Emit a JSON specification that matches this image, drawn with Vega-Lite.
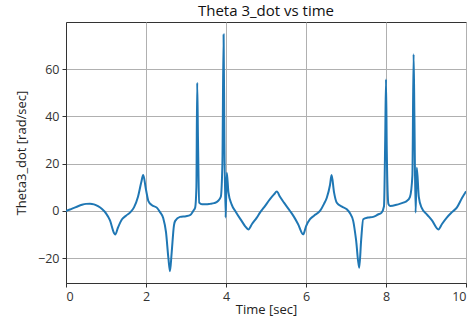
{
  "$schema": "https://vega.github.io/schema/vega-lite/v6.json",
  "width": 400,
  "height": 261,
  "autosize": "none",
  "padding": {"left": 66, "top": 22, "right": 10, "bottom": 43},
  "background": "white",
  "title": {"text": "Theta 3_dot vs time", "font": "Open Sans", "fontSize": 15, "fontWeight": "normal", "color": "#111", "offset": 3},
  "config": {
    "view": {"stroke": "#333", "strokeWidth": 1},
    "axis": {"labelFont": "Open Sans", "titleFont": "Open Sans", "labelFontSize": 12.5, "titleFontSize": 13, "titleFontWeight": "normal", "labelColor": "#333", "titleColor": "#222", "gridColor": "#b0b0b0", "gridWidth": 1, "gridOpacity": 1, "domainColor": "#333", "tickColor": "#333", "tickSize": 4, "labelPadding": 3}
  },
  "data": {"values": [
    {"t": 0, "v": 0}, {"t": 0.1, "v": 0.6}, {"t": 0.2, "v": 1.3}, {"t": 0.3, "v": 2.0}, {"t": 0.4, "v": 2.6}, {"t": 0.5, "v": 3.0}, {"t": 0.6, "v": 3.1}, {"t": 0.7, "v": 2.8}, {"t": 0.8, "v": 2.0}, {"t": 0.9, "v": 0.8},
    {"t": 1.0, "v": -1.0}, {"t": 1.1, "v": -4}, {"t": 1.2, "v": -9.3}, {"t": 1.23, "v": -10}, {"t": 1.3, "v": -7}, {"t": 1.4, "v": -3.5}, {"t": 1.5, "v": -2}, {"t": 1.6, "v": -0.7}, {"t": 1.7, "v": 1.5}, {"t": 1.8, "v": 6},
    {"t": 1.88, "v": 12}, {"t": 1.93, "v": 15.2}, {"t": 2.0, "v": 9}, {"t": 2.06, "v": 4.2}, {"t": 2.15, "v": 2.4}, {"t": 2.27, "v": 1.4}, {"t": 2.35, "v": -0.5}, {"t": 2.43, "v": -3}, {"t": 2.5, "v": -9}, {"t": 2.56, "v": -20},
    {"t": 2.6, "v": -25.5}, {"t": 2.64, "v": -18}, {"t": 2.7, "v": -6}, {"t": 2.73, "v": -4.2}, {"t": 2.85, "v": -2.5}, {"t": 3.0, "v": -2.2}, {"t": 3.1, "v": -1.8}, {"t": 3.18, "v": 0}, {"t": 3.23, "v": 1.5}, {"t": 3.26, "v": 10},
    {"t": 3.28, "v": 54.3}, {"t": 3.3, "v": 30}, {"t": 3.33, "v": 3.5}, {"t": 3.4, "v": 2.8}, {"t": 3.5, "v": 2.8}, {"t": 3.6, "v": 3.0}, {"t": 3.7, "v": 3.3}, {"t": 3.8, "v": 4.2}, {"t": 3.87, "v": 6}, {"t": 3.91, "v": 20},
    {"t": 3.94, "v": 74.7}, {"t": 3.96, "v": 30}, {"t": 3.99, "v": -2.8}, {"t": 4.02, "v": 16.2}, {"t": 4.06, "v": 8}, {"t": 4.14, "v": 2.8}, {"t": 4.25, "v": -0.5}, {"t": 4.39, "v": -4.2}, {"t": 4.48, "v": -6.5}, {"t": 4.56, "v": -7.8},
    {"t": 4.65, "v": -5.5}, {"t": 4.77, "v": -2.8}, {"t": 4.85, "v": -0.7}, {"t": 4.95, "v": 1.5}, {"t": 5.1, "v": 5}, {"t": 5.2, "v": 7}, {"t": 5.27, "v": 8.2}, {"t": 5.35, "v": 6}, {"t": 5.45, "v": 3.5}, {"t": 5.6, "v": 0},
    {"t": 5.7, "v": -2.5}, {"t": 5.8, "v": -5.5}, {"t": 5.93, "v": -9.9}, {"t": 6.0, "v": -6.5}, {"t": 6.1, "v": -3.5}, {"t": 6.2, "v": -2}, {"t": 6.35, "v": 0}, {"t": 6.45, "v": 3}, {"t": 6.52, "v": 5.6}, {"t": 6.6, "v": 11},
    {"t": 6.64, "v": 15.2}, {"t": 6.7, "v": 8}, {"t": 6.77, "v": 3.5}, {"t": 6.9, "v": 1.8}, {"t": 7.02, "v": 0.7}, {"t": 7.1, "v": -1}, {"t": 7.18, "v": -4.2}, {"t": 7.25, "v": -12}, {"t": 7.33, "v": -24}, {"t": 7.38, "v": -12},
    {"t": 7.43, "v": -3.5}, {"t": 7.55, "v": -2.8}, {"t": 7.68, "v": -2.5}, {"t": 7.8, "v": -1.5}, {"t": 7.89, "v": -0.7}, {"t": 7.95, "v": 2}, {"t": 7.98, "v": 30}, {"t": 8.0, "v": 55.7}, {"t": 8.02, "v": 25}, {"t": 8.06, "v": 3},
    {"t": 8.1, "v": 2.1}, {"t": 8.3, "v": 2.8}, {"t": 8.45, "v": 3.6}, {"t": 8.52, "v": 4.2}, {"t": 8.6, "v": 6}, {"t": 8.66, "v": 15}, {"t": 8.69, "v": 66.3}, {"t": 8.71, "v": 40}, {"t": 8.74, "v": -0.7}, {"t": 8.77, "v": 18.3},
    {"t": 8.82, "v": 6}, {"t": 8.89, "v": 1.4}, {"t": 9.02, "v": -1.4}, {"t": 9.15, "v": -4}, {"t": 9.31, "v": -7.8}, {"t": 9.4, "v": -5.5}, {"t": 9.52, "v": -2.8}, {"t": 9.65, "v": -0.5}, {"t": 9.77, "v": 1.4}, {"t": 9.9, "v": 5.5},
    {"t": 10.0, "v": 8.3}
  ]},
  "mark": {"type": "line", "color": "#1f77b4", "strokeWidth": 2, "interpolate": "monotone", "clip": true},
  "encoding": {
    "x": {"field": "t", "type": "quantitative", "scale": {"domain": [0, 10], "nice": false, "zero": false}, "axis": {"values": [0, 2, 4, 6, 8, 10], "title": "Time [sec]", "titlePadding": 1}},
    "y": {"field": "v", "type": "quantitative", "scale": {"domain": [-30.5, 80], "nice": false, "zero": false}, "axis": {"values": [-20, 0, 20, 40, 60], "title": "Theta3_dot [rad/sec]", "titlePadding": 9}}
  }
}
